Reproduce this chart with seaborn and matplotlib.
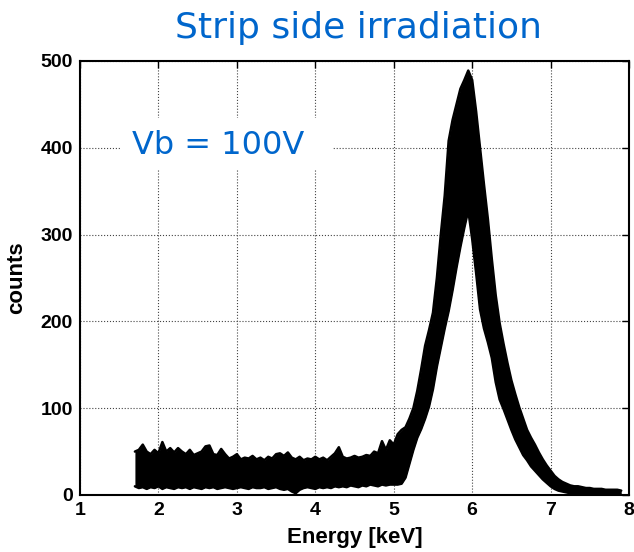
import numpy as np
import pandas as pd
import matplotlib
matplotlib.use("Agg")
import matplotlib.pyplot as plt
from matplotlib.patches import Rectangle
import seaborn as sns

# energy bins of the spectra (keV)
energy_kev = [
    1.70, 1.75, 1.80, 1.85, 1.90, 1.95, 2.00, 2.05, 2.10, 2.15,
    2.20, 2.25, 2.30, 2.35, 2.40, 2.45, 2.50, 2.55, 2.60, 2.65,
    2.70, 2.75, 2.80, 2.85, 2.90, 2.95, 3.00, 3.05, 3.10, 3.15,
    3.20, 3.25, 3.30, 3.35, 3.40, 3.45, 3.50, 3.55, 3.60, 3.65,
    3.70, 3.75, 3.80, 3.85, 3.90, 3.95, 4.00, 4.05, 4.10, 4.15,
    4.20, 4.25, 4.30, 4.35, 4.40, 4.45, 4.50, 4.55, 4.60, 4.65,
    4.70, 4.75, 4.80, 4.85, 4.90, 4.95, 5.00, 5.05, 5.10, 5.15,
    5.20, 5.25, 5.30, 5.35, 5.40, 5.45, 5.50, 5.55, 5.60, 5.65,
    5.70, 5.75, 5.80, 5.85, 5.90, 5.95, 6.00, 6.05, 6.10, 6.15,
    6.20, 6.25, 6.30, 6.35, 6.40, 6.45, 6.50, 6.55, 6.60, 6.65,
    6.70, 6.75, 6.80, 6.85, 6.90, 6.95, 7.00, 7.05, 7.10, 7.15,
    7.20, 7.25, 7.30, 7.35, 7.40, 7.45, 7.50, 7.55, 7.60, 7.65,
    7.70, 7.75, 7.80, 7.85, 7.90,
]

# highest counts over all strips in each bin
counts_max = [
    50, 52, 58, 50, 47, 52, 48, 61, 50, 54,
    49, 54, 50, 47, 52, 46, 48, 50, 56, 57,
    47, 46, 53, 47, 42, 44, 47, 41, 43, 42,
    45, 41, 43, 40, 44, 42, 47, 48, 45, 49,
    43, 41, 44, 40, 42, 41, 44, 41, 43, 40,
    44, 48, 55, 44, 42, 43, 45, 43, 44, 46,
    45, 50, 48, 62, 52, 63, 58, 70, 75, 78,
    88, 100, 120, 145, 172, 190, 210, 250, 300, 345,
    408, 432, 450, 468, 478, 489, 478, 442, 400, 358,
    318, 272, 230, 198, 174, 152, 132, 116, 101, 88,
    75, 66, 58, 49, 41, 34, 28, 22, 18, 15,
    13, 11, 10, 10, 9, 8, 8, 7, 7, 7,
    6, 6, 6, 6, 5,
]

# lowest counts over all strips in each bin
counts_min = [
    10, 8, 9, 7, 9, 8, 10, 7, 9, 8,
    7, 9, 8, 9, 7, 9, 8, 7, 9, 8,
    9, 7, 8, 9, 8, 7, 8, 9, 8, 7,
    9, 8, 8, 9, 7, 8, 9, 7, 6, 7,
    4, 2, 6, 8, 9, 8, 7, 9, 8, 9,
    8, 10, 9, 10, 9, 11, 10, 9, 11, 10,
    12, 11, 10, 12, 11, 12, 12, 12, 13, 20,
    36, 52, 66, 76, 88, 102, 122, 148, 170, 192,
    212, 236, 262, 286, 308, 328, 295, 256, 214, 192,
    176, 158, 130, 110, 99, 87, 75, 64, 55, 46,
    40, 33, 28, 23, 18, 14, 10, 7, 5, 4,
    3, 2, 2, 1, 1, 0, 0, 0, 0, 0,
    0, 0, 0, 0, 0,
]

x_ticks = [1, 2, 3, 4, 5, 6, 7, 8]
y_ticks = [0, 100, 200, 300, 400, 500]

sns.set_style("white")
plt.rcParams["font.family"] = ["Liberation Sans", "DejaVu Sans"]

df = pd.DataFrame({
    "energy": energy_kev * 2,
    "counts": counts_max + counts_min,
    "edge": ["max"] * len(energy_kev) + ["min"] * len(energy_kev),
})

fig = plt.figure(figsize=(6.34, 5.52), dpi=100)
ax = fig.add_axes([0.1262, 0.1033, 0.866, 0.7862])

ax.fill_between(energy_kev, counts_min, counts_max, color="black", lw=0, zorder=4)
sns.lineplot(data=df, x="energy", y="counts", hue="edge",
             palette={"max": "black", "min": "black"}, lw=1.8,
             legend=False, ax=ax, zorder=5)

ax.set_xlim(1, 8)
ax.set_ylim(0, 500)
ax.set_xticks(x_ticks)
ax.set_yticks(y_ticks)
ax.grid(True, linestyle=":", color="#444444", lw=0.8)
ax.tick_params(direction="in", length=5, width=1, top=True, right=True,
               labelsize=14, pad=5, colors="black")
for lab in ax.get_xticklabels() + ax.get_yticklabels():
    lab.set_fontweight("bold")
for sp in ax.spines.values():
    sp.set_color("black")
    sp.set_linewidth(1.5)

ax.set_xlabel("Energy [keV]", fontsize=16, fontweight="bold", labelpad=6,
              color="black")
ax.set_ylabel("counts", fontsize=16, fontweight="bold", labelpad=10,
              color="black")

# white box hiding the grid behind the annotation
ax.add_patch(Rectangle((0.073, 0.749), 0.388, 0.12, transform=ax.transAxes,
                       facecolor="white", edgecolor="none", zorder=3))
ax.text(0.252, 0.806, "Vb = 100V", transform=ax.transAxes, ha="center",
        va="center", fontsize=23, color="#0066CC", family="DejaVu Sans",
        zorder=6)

fig.text(0.5655, 0.949, "Strip side irradiation", ha="center", va="center",
         fontsize=26, color="#0066CC", family="DejaVu Sans")

fig.savefig("out.png", dpi=100)
